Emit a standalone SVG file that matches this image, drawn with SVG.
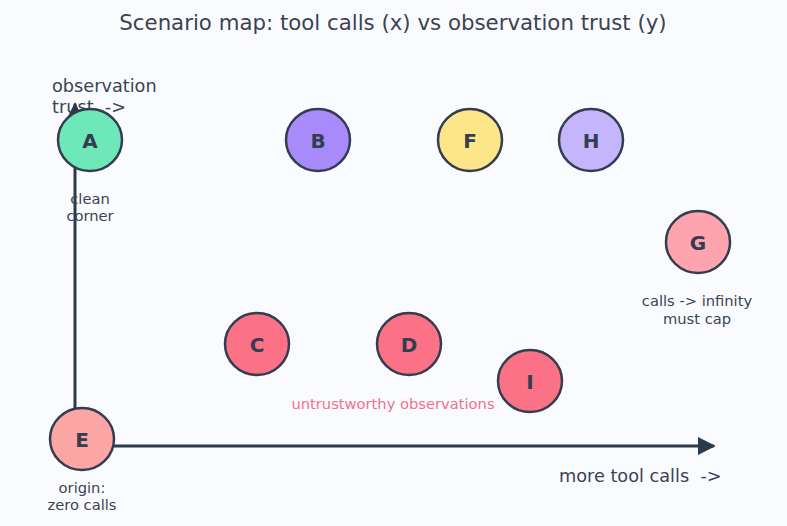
<svg xmlns="http://www.w3.org/2000/svg" width="787" height="526" viewBox="0 0 787 526">
<defs>
<marker id="arr" viewBox="0 0 10 10" refX="9" refY="5" markerWidth="6" markerHeight="6" markerUnits="strokeWidth" orient="auto">
<path d="M0,0 L10,5 L0,10 z" fill="#2d3a4b"/>
</marker>
<style>
.t{font-family:"DejaVu Sans",sans-serif;fill:#3a4352;white-space:pre}
.lbl{font-size:14.7px;text-anchor:middle}
.n ellipse{stroke:#343d50;stroke-width:2.5}
.n text{font-family:"DejaVu Sans",sans-serif;font-weight:bold;font-size:20px;fill:#343d50;text-anchor:middle;dominant-baseline:central}
.ax{stroke:#2d3a4b;stroke-width:3;fill:none}
</style>
</defs>
<rect width="787" height="526" fill="#fafbfe"/>
<text class="t" x="393" y="30" font-size="21.3" text-anchor="middle">Scenario map: tool calls (x) vs observation trust (y)</text>
<text class="t" x="52" y="92" font-size="17.7">observation</text>
<text class="t" x="52" y="113" font-size="17.7" xml:space="preserve">trust  -&gt;</text>
<g id="connectors">
<line class="ax" x1="75" y1="446" x2="75" y2="104" marker-end="url(#arr)"/>
<line class="ax" x1="75" y1="446" x2="714" y2="446" marker-end="url(#arr)"/>
</g>
<g id="A" class="n"><ellipse cx="90" cy="140" rx="32" ry="31" fill="#6ee7b9"/><text x="90" y="141">A</text></g>
<g id="B" class="n"><ellipse cx="318" cy="140" rx="32" ry="31" fill="#a78bfa"/><text x="318" y="141">B</text></g>
<g id="F" class="n"><ellipse cx="470" cy="140" rx="32" ry="31" fill="#fde68a"/><text x="470" y="141">F</text></g>
<g id="H" class="n"><ellipse cx="591" cy="140" rx="32" ry="31" fill="#c4b5fd"/><text x="591" y="141">H</text></g>
<g id="G" class="n"><ellipse cx="698" cy="242" rx="32" ry="31" fill="#fda4af"/><text x="698" y="243">G</text></g>
<g id="C" class="n"><ellipse cx="257" cy="344" rx="32" ry="31" fill="#fb7185"/><text x="257" y="345">C</text></g>
<g id="D" class="n"><ellipse cx="409" cy="344" rx="32" ry="31" fill="#fb7185"/><text x="409" y="345">D</text></g>
<g id="I" class="n"><ellipse cx="530" cy="381" rx="32" ry="31" fill="#fb7185"/><text x="530" y="382">I</text></g>
<g id="E" class="n"><ellipse cx="82" cy="439" rx="32" ry="31" fill="#fca5a5"/><text x="82" y="440">E</text></g>
<text class="t lbl" x="90" y="204">clean</text>
<text class="t lbl" x="90" y="221">corner</text>
<text class="t lbl" x="82" y="493">origin:</text>
<text class="t lbl" x="82" y="510">zero calls</text>
<text class="t lbl" x="697" y="306">calls -&gt; infinity</text>
<text class="t lbl" x="697" y="324">must cap</text>
<text class="lbl" x="393" y="409" font-family="DejaVu Sans, sans-serif" fill="#f0728a">untrustworthy observations</text>
<text class="t" x="559" y="482" font-size="17.7" xml:space="preserve">more tool calls  -&gt;</text>
</svg>
